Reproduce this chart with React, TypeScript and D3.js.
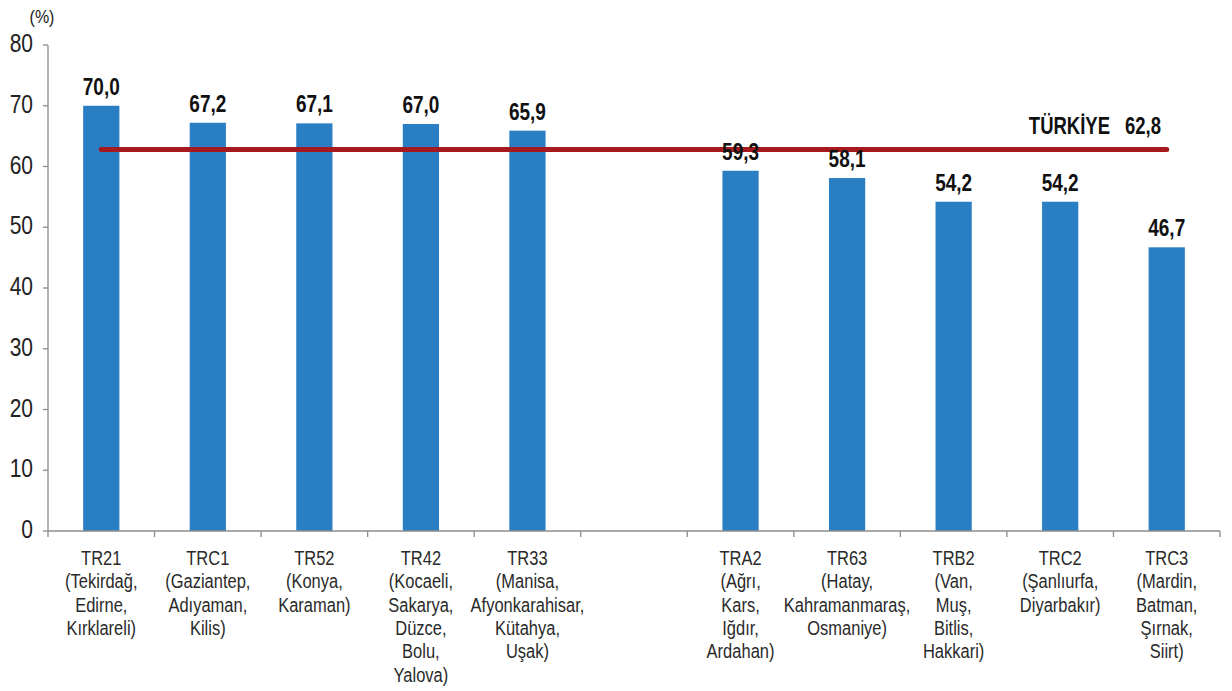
import React from 'react';
import {scaleBand, scaleLinear, range} from 'd3';

// regions (empty code = gap between the two groups)
const codes = ['TR21', 'TRC1', 'TR52', 'TR42', 'TR33', '', 'TRA2', 'TR63', 'TRB2', 'TRC2', 'TRC3'];
const provinces = [
  ['(Tekirdağ,', 'Edirne,', 'Kırklareli)'],
  ['(Gaziantep,', 'Adıyaman,', 'Kilis)'],
  ['(Konya,', 'Karaman)'],
  ['(Kocaeli,', 'Sakarya,', 'Düzce,', 'Bolu,', 'Yalova)'],
  ['(Manisa,', 'Afyonkarahisar,', 'Kütahya,', 'Uşak)'],
  [],
  ['(Ağrı,', 'Kars,', 'Iğdır,', 'Ardahan)'],
  ['(Hatay,', 'Kahramanmaraş,', 'Osmaniye)'],
  ['(Van,', 'Muş,', 'Bitlis,', 'Hakkari)'],
  ['(Şanlıurfa,', 'Diyarbakır)'],
  ['(Mardin,', 'Batman,', 'Şırnak,', 'Siirt)'],
];
const values: (number | null)[] = [70.0, 67.2, 67.1, 67.0, 65.9, null, 59.3, 58.1, 54.2, 54.2, 46.7];
const turkiye = 62.8;
const yTicks = [0, 10, 20, 30, 40, 50, 60, 70, 80];

const W = 1232, H = 691;
const narrow = "'Liberation Sans Narrow', 'Arial Narrow', 'Liberation Sans', sans-serif";

const fmt = (v: number) => v.toFixed(1).replace('.', ',');

export default function App() {
  const slots = range(codes.length);
  const x = scaleBand<number>().domain(slots).range([48, 1220]).paddingInner(0.66).paddingOuter(0.33);
  const y = scaleLinear().domain([0, 80]).range([531, 45]);
  const step = x.step();
  const left = 48, right = 1220;
  const cx = (i: number) => (x(i) as number) + x.bandwidth() / 2;

  // source picture is stretched vertically
  const T = (tx: number, ty: number, s = 1.2) => `translate(${tx},${ty}) scale(1,${s})`;

  return (
    <svg width={W} height={H} style={{position: 'absolute', left: 0, top: 0, background: '#fff'}}>
      {/* y axis */}
      <line x1={left} x2={left} y1={y(80)} y2={y(0)} stroke="#8c8c8c" strokeWidth={1.3} />
      {yTicks.map(t => (
        <g key={t}>
          <line x1={left - 5} x2={left} y1={y(t)} y2={y(t)} stroke="#8c8c8c" strokeWidth={1.3} />
          <text transform={T(33, y(t) + 7)} textAnchor="end" fontFamily={narrow} fontSize={21} fill="#222">{t}</text>
        </g>
      ))}
      <text transform={T(42, 23)} textAnchor="middle" fontFamily={narrow} fontSize={16} fill="#222">(%)</text>

      {/* bars */}
      {values.map((v, i) => v == null ? null : (
        <rect key={i} x={x(i)} y={y(v)} width={x.bandwidth()} height={y(0) - y(v)} fill="#2a7ec4" />
      ))}

      {/* x axis */}
      <line x1={left} x2={right} y1={y(0)} y2={y(0)} stroke="#8c8c8c" strokeWidth={1.3} />
      {range(codes.length + 1).map(k => (
        <line key={k} x1={left + k * step} x2={left + k * step} y1={y(0)} y2={y(0) + 6} stroke="#8c8c8c" strokeWidth={1.3} />
      ))}

      {/* Türkiye average line */}
      <line x1={cx(0)} x2={cx(codes.length - 1)} y1={y(turkiye)} y2={y(turkiye)} stroke="#a6191e" strokeWidth={5} strokeLinecap="round" />
      <text transform={T(1110, 134, 1.3)} textAnchor="end" fontFamily={narrow} fontSize={18.5} fontWeight="bold" fill="#111">TÜRKİYE</text>
      <text transform={T(1161, 134, 1.3)} textAnchor="end" fontFamily={narrow} fontSize={18.5} fontWeight="bold" fill="#111">{fmt(turkiye)}</text>

      {/* value labels */}
      {values.map((v, i) => v == null ? null : (
        <text key={i} transform={T(cx(i), y(v) - 11, 1.3)} textAnchor="middle" fontFamily={narrow} fontSize={19} fontWeight="bold" fill="#111">{fmt(v)}</text>
      ))}

      {/* category labels */}
      {codes.map((c, i) => c === '' ? null : (
        <g key={c}>
          {[c, ...provinces[i]].map((line, j) => (
            <text key={j} transform={T(cx(i), 565 + j * 23.3)} textAnchor="middle" fontFamily={narrow} fontSize={16.5} fill="#2a2a2a">{line}</text>
          ))}
        </g>
      ))}
    </svg>
  );
}
